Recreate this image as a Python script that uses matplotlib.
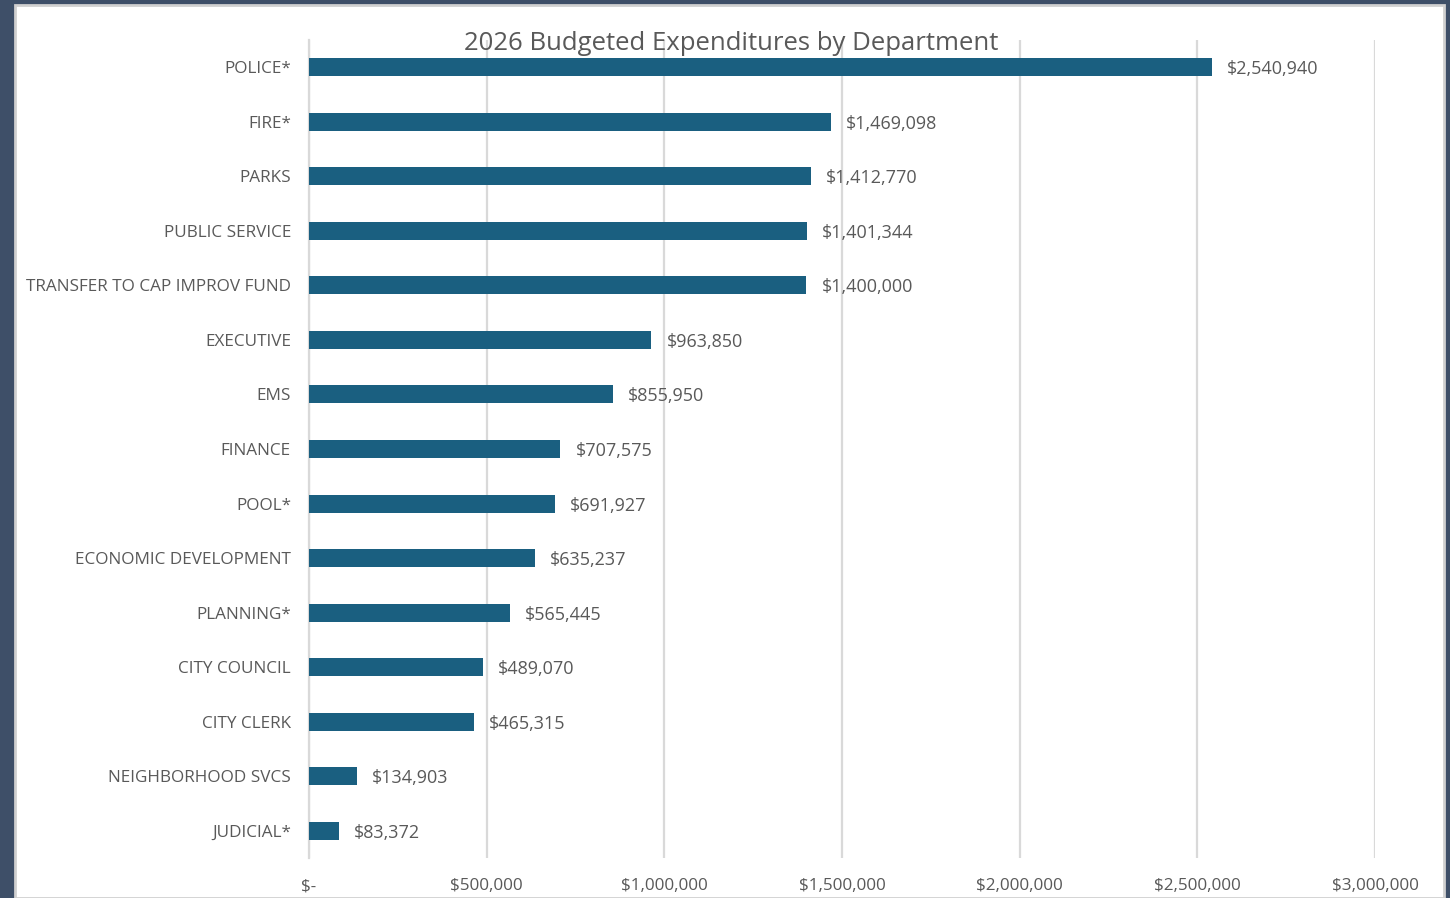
import matplotlib
matplotlib.use("Agg")
import matplotlib.pyplot as plt
from matplotlib.patches import Rectangle
from matplotlib.ticker import FuncFormatter

departments = [
    "POLICE*", "FIRE*", "PARKS", "PUBLIC SERVICE", "TRANSFER TO CAP IMPROV FUND",
    "EXECUTIVE", "EMS", "FINANCE", "POOL*", "ECONOMIC DEVELOPMENT",
    "PLANNING*", "CITY COUNCIL", "CITY CLERK", "NEIGHBORHOOD SVCS", "JUDICIAL*",
]
amounts = [
    2540940, 1469098, 1412770, 1401344, 1400000,
    963850, 855950, 707575, 691927, 635237,
    565445, 489070, 465315, 134903, 83372,
]
x_ticks = [0, 500000, 1000000, 1500000, 2000000, 2500000, 3000000]
title = "2026 Budgeted Expenditures by Department"

plt.rcParams["font.family"] = ["Open Sans", "DejaVu Sans"]
text_gray = "#595959"
grid_gray = "#d9d9d9"
bar_color = "#1a5f80"

W, H = 1450, 898
fig = plt.figure(figsize=(W / 100, H / 100), dpi=100)
fig.patch.set_facecolor("#3e4f68")

# white chart panel inside the dark frame
panel = Rectangle((15 / W, 0), (1444 - 15) / W, (H - 5) / H, transform=fig.transFigure,
                  facecolor="white", edgecolor="#d0d0d0", linewidth=2, zorder=-5)
fig.patches.append(panel)

ax = fig.add_axes([309 / W, 1 - 858 / H, (1375 - 309) / W, (858 - 40) / H])
ax.set_facecolor("none")
ax.set_zorder(2)

y = list(range(len(departments)))
ax.barh(y, amounts, height=0.33, color=bar_color, zorder=3)
ax.set_ylim(len(departments) - 0.5, -0.5)
ax.set_xlim(0, 3000000)

for yi, v in zip(y, amounts):
    ax.annotate(f"${v:,}", (v, yi), xytext=(15, -2), textcoords="offset pixels",
                va="center", ha="left", fontsize=13, color=text_gray, zorder=4)

ax.set_yticks(y)
ax.set_yticklabels(departments)
ax.set_xticks(x_ticks)
ax.xaxis.set_major_formatter(FuncFormatter(lambda v, p: "$-" if v == 0 else f"${int(v):,}"))
ax.tick_params(axis="both", length=0, labelcolor=text_gray)
ax.tick_params(axis="y", pad=13, labelsize=12.3)
ax.tick_params(axis="x", pad=14.5, labelsize=12.3)

ax.grid(axis="x", color=grid_gray, linewidth=1.6, zorder=1)
ax.set_axisbelow(True)
for s in ["top", "right", "bottom"]:
    ax.spines[s].set_visible(False)
ax.spines["left"].set_color(grid_gray)
ax.spines["left"].set_linewidth(1.6)

fig.text(731 / W, 1 - 43 / H, title, ha="center", va="center", fontsize=18.5,
         color=text_gray, zorder=5)

fig.savefig("out.png", dpi=100, facecolor=fig.get_facecolor())
